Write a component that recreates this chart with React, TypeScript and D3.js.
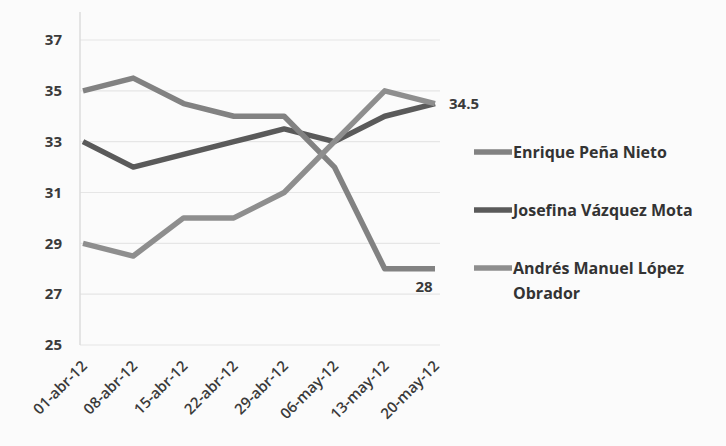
import React from 'react';
import * as d3 from 'd3';

const dates: string[] = ['01-abr-12', '08-abr-12', '15-abr-12', '22-abr-12', '29-abr-12', '06-may-12', '13-may-12', '20-may-12'];
const pena: number[] = [35, 35.5, 34.5, 34, 34, 32, 28, 28];
const vazquez: number[] = [33, 32, 32.5, 33, 33.5, 33, 34, 34.5];
const lopez: number[] = [29, 28.5, 30, 30, 31, 33, 35, 34.5];
const yTicks: number[] = [25, 27, 29, 31, 33, 35, 37];

const seriesNames: string[] = ['Enrique Peña Nieto', 'Josefina Vázquez Mota', 'Andrés Manuel López Obrador'];
const seriesColors: string[] = ['#828282', '#5a5a5a', '#8e8e8e'];

const width = 726;
const height = 446;
const font = "'Open Sans', 'DejaVu Sans', sans-serif";

function App() {
    const x = d3.scalePoint<string>().domain(dates).range([83, 435]);
    const y = d3.scaleLinear().domain([25, 37]).range([345, 40]);

    const line = d3.line<number>()
        .x((_d, i) => x(dates[i]) as number)
        .y(d => y(d));

    const allSeries = [pena, vazquez, lopez];
    const drawOrder = [1, 0, 2];
    const legendY = [152, 210, 268];

    return (
        <div style={{ position: 'absolute', left: 0, top: 0 }}>
            <svg width={width} height={height} style={{ display: 'block', background: '#fbfbfb' }}>
                {/* gridlines */}
                {yTicks.map(t => (
                    <line key={t} x1={80} x2={440} y1={y(t)} y2={y(t)} stroke="#e6e6e6" strokeWidth={1.2} />
                ))}
                <line x1={80} x2={80} y1={12} y2={345} stroke="#dcdcdc" strokeWidth={1.5} />

                {/* y tick labels */}
                {yTicks.map(t => (
                    <text key={t} x={62} y={y(t)} dy="0.35em" textAnchor="end"
                        fontFamily={font} fontSize={15} fontWeight={700} fill="#3a3a3a">{t}</text>
                ))}

                {/* x tick labels */}
                {dates.map(d => (
                    <text key={d} transform={`translate(${(x(d) as number) + 5},${367}) rotate(-45)`}
                        textAnchor="end" fontFamily={font} fontSize={15} fontWeight={600} fill="#3a3a3a">{d}</text>
                ))}

                {/* lines */}
                {drawOrder.map(i => (
                    <path key={i} d={line(allSeries[i]) || ''} fill="none" stroke={seriesColors[i]}
                        strokeWidth={5.5} strokeLinejoin="round" />
                ))}

                {/* data labels */}
                <text x={x(dates[7])! + 14} y={y(34.5)} dy="0.35em" fontFamily={font} fontSize={15}
                    fontWeight={700} fill="#3a3a3a">{lopez[7]}</text>
                <text x={x(dates[7])! - 11} y={y(28) + 18} dy="0.35em" textAnchor="middle" fontFamily={font}
                    fontSize={15} fontWeight={700} fill="#3a3a3a">{pena[7]}</text>

                {/* legend */}
                {seriesNames.map((name, i) => (
                    <g key={name} transform={`translate(474,${legendY[i]})`}>
                        <line x1={0} x2={38} y1={0} y2={0} stroke={seriesColors[i]} strokeWidth={5.5} />
                        <text x={39} y={0} dy="0.35em" fontFamily={font} fontSize={16} fontWeight={700} fill="#333">
                            {i === 2 ? 'Andrés Manuel López' : name}
                        </text>
                        {i === 2 && (
                            <text x={39} y={25} dy="0.35em" fontFamily={font} fontSize={16} fontWeight={700} fill="#333">Obrador</text>
                        )}
                    </g>
                ))}
            </svg>
        </div>
    );
}

export default App;
